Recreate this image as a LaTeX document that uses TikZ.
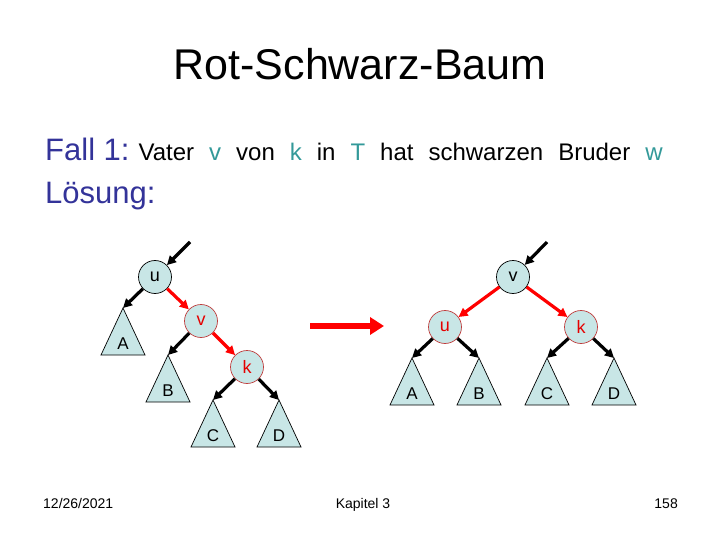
\documentclass[tikz,border=0pt]{standalone}
\usepackage{fontspec}
\setmainfont{Liberation Sans}
\usepackage{xcolor}
\usetikzlibrary{arrows.meta,positioning,calc}
\definecolor{folie}{RGB}{51,51,153}
\definecolor{hell}{RGB}{51,153,153}
\definecolor{knoten}{RGB}{200,230,230}
\definecolor{rotrand}{RGB}{190,60,60}
% Teilbaum: Spitze (#1) bei (#2,#3), Beschriftung #4
\newcommand{\subtree}[4]{%
  \coordinate (#1) at (#2,#3);
  \draw[fill=knoten,line width=.7pt] (#1) -- ++(-22,47) -- ++(44,0) -- cycle;
  \node[lbl] (#1l) at ($(#1)+(0,36)$) {#4};}

\begin{document}
\begin{tikzpicture}[x=1pt,y=-1pt,>={Triangle[length=9pt,width=9pt]},
  lbl/.style={font=\fontsize{17}{17}\selectfont,inner sep=0pt},
  sw/.style={draw=black,line width=.7pt,fill=knoten,circle,minimum size=33pt,inner sep=0pt,font=\fontsize{18}{18}\selectfont},
  rt/.style={sw,draw=rotrand,text=red!90!black},
  ka/.style={->,line width=3.2pt},
  ra/.style={->,line width=3.2pt,red}]
\useasboundingbox (0,0) rectangle (720,540);
\node[anchor=base,font=\fontsize{43}{43}\selectfont] (title) at (360,80) {Rot-Schwarz-Baum};
\node[anchor=base west,inner sep=0pt] (fall) at (45,161) {{\color{folie}\fontsize{31}{31}\selectfont Fall 1:}\hspace{9pt}{\fontsize{24}{24}\selectfont\spaceskip=15pt Vater \textcolor{hell}{v} von \textcolor{hell}{k} in \textcolor{hell}{T} hat schwarzen Bruder \textcolor{hell}{w}}};
\node[anchor=base west,inner sep=0pt,text=folie,font=\fontsize{31}{31}\selectfont] (loes) at (45,204) {Lösung:};
% vorher
\node[sw] (u1) at (155,277) {u};
\node[rt] (v1) at (201,321) {v};
\node[rt] (k1) at (247,367) {k};
\coordinate (in1) at (190,242);
\subtree{A1}{123}{308}{A}
\subtree{B1}{168}{355}{B}
\subtree{C1}{213}{400}{C}
\subtree{D1}{279}{400}{D}
\draw[ka] (in1)--(u1);
\draw[ka] (u1)--(A1);
\draw[ra] (u1)--(v1);
\draw[ka] (v1)--(B1);
\draw[ra] (v1)--(k1);
\draw[ka] (k1)--(C1);
\draw[ka] (k1)--(D1);
% Pfeil
\coordinate (p1) at (310,326);
\coordinate (p2) at (384,326);
\draw[-{Triangle[length=14pt,width=17pt]},line width=6pt,red] (p1)--(p2);
% nachher
\node[sw] (v2) at (513,277) {v};
\node[rt] (u2) at (445,327) {u};
\node[rt] (k2) at (581,327) {k};
\coordinate (in2) at (547,242);
\subtree{A2}{412}{358}{A}
\subtree{B2}{479}{358}{B}
\subtree{C2}{547}{358}{C}
\subtree{D2}{614}{358}{D}
\draw[ka] (in2)--(v2);
\draw[ra] (v2)--(u2);
\draw[ra] (v2)--(k2);
\draw[ka] (u2)--(A2);
\draw[ka] (u2)--(B2);
\draw[ka] (k2)--(C2);
\draw[ka] (k2)--(D2);
% Fusszeile
\node[anchor=base west,font=\fontsize{14}{14}\selectfont,inner sep=0pt] (datum) at (43,508) {12/26/2021};
\node[anchor=base,font=\fontsize{14}{14}\selectfont,inner sep=0pt] (kap) at (363,508) {Kapitel 3};
\node[anchor=base east,font=\fontsize{14}{14}\selectfont,inner sep=0pt] (seite) at (678,508) {158};
\end{tikzpicture}
\end{document}
